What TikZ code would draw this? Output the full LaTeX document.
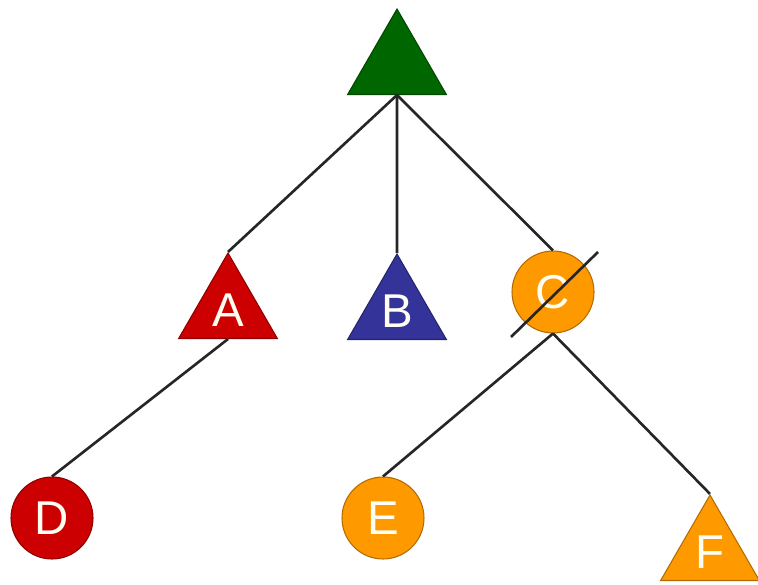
\documentclass[tikz,border=0pt]{standalone}
\usepackage{fontspec}
\setsansfont{Liberation Sans}
\usepackage{tikz}
\usetikzlibrary{shapes.geometric, positioning, calc}
\usepackage{xcolor}
\definecolor{treegreen}{RGB}{0,102,0}
\definecolor{treered}{RGB}{204,0,0}
\definecolor{treeblue}{RGB}{51,51,153}
\definecolor{treeorange}{RGB}{255,153,0}

\begin{document}
\begin{tikzpicture}[
        every node/.style={font=\sffamily\fontsize{27}{30}\selectfont, text=white!95!yellow},
        tri/.style={regular polygon, regular polygon sides=3, minimum size=2.28cm, inner sep=0pt, draw=#1!70!black, fill=#1, line width=0.6pt},
        ball/.style={circle, minimum size=1.64cm, inner sep=0pt, draw=#1!70!black, fill=#1, line width=0.6pt},
        edge/.style={line width=1.5pt, black!85}
    ]
        \useasboundingbox (0,0) rectangle (15.16,-11.7);

        \node[tri=treegreen] (root) at (7.94,-1.32) {};
        \node[tri=treered] (A) at (4.56,-6.2) {A};
        \node[tri=treeblue] (B) at (7.94,-6.22) {B};
        \node[ball=treeorange] (C) at (11.06,-5.84) {C};
        \node[ball=treered] (D) at (1.04,-10.36) {D};
        \node[ball=treeorange] (E) at (7.66,-10.36) {E};
        \node[tri=treeorange] (F) at (14.2,-11.04) {F};

        \draw[edge] (root.south) -- (A.north);
        \draw[edge] (root.south) -- (B.north);
        \draw[edge] (root.south) -- (C.north);
        \draw[edge] (A.south) -- (D.north);
        \draw[edge] (C.south) -- (E.north);
        \draw[edge] (C.south) -- (F.north);

        % C is struck out
        \coordinate (cutlow) at ($(C.center)+(-0.84,-0.9)$);
        \coordinate (cuthigh) at ($(C.center)+(0.9,0.8)$);
        \draw[edge] (cutlow) -- (cuthigh);
    \end{tikzpicture}
\end{document}
